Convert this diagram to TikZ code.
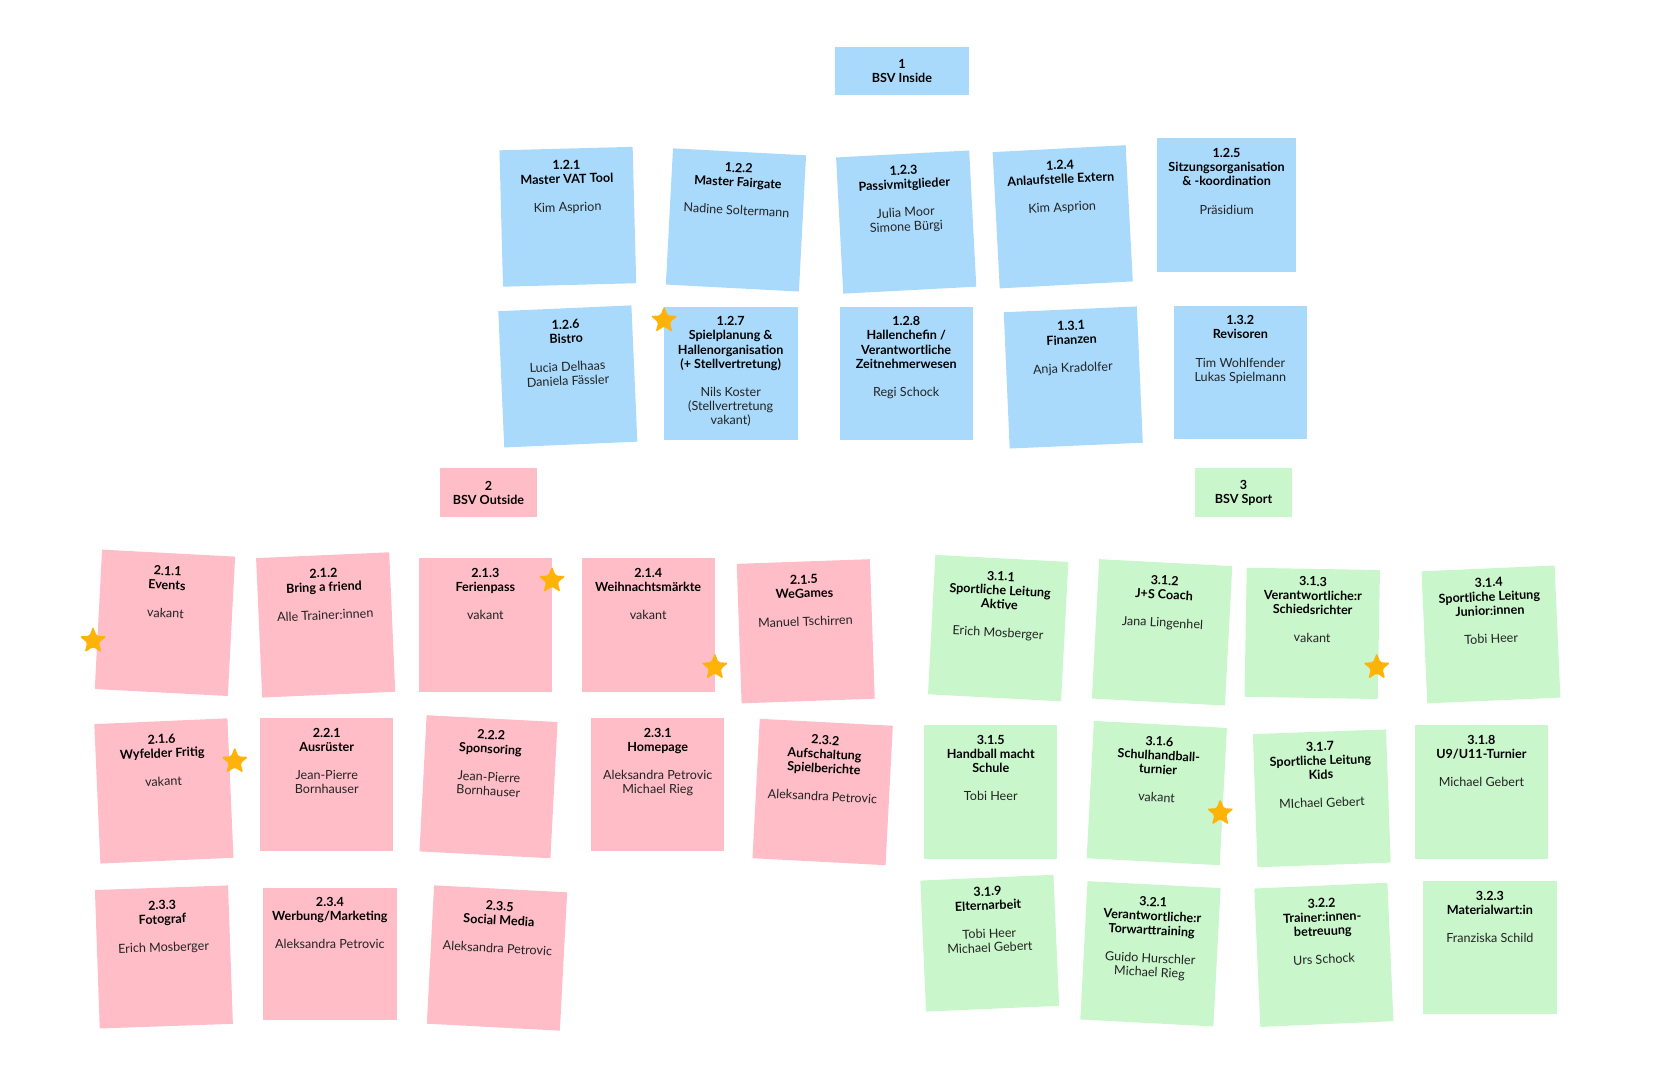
\documentclass[tikz,border=0pt]{standalone}
\usepackage{fontspec}
\setmainfont{Lato}
\usepackage{tikz}
\usetikzlibrary{shapes.geometric, positioning}
\definecolor{noteblue}{RGB}{169,218,252}
\definecolor{notepink}{RGB}{255,189,199}
\definecolor{notegreen}{RGB}{201,246,203}
\definecolor{stargold}{RGB}{255,178,8}
\definecolor{inkgray}{RGB}{35,35,35}
\newcommand{\cardtext}[3]{\parbox[c][118pt][t]{124pt}{\centering\vspace*{5.5pt}%
  {\bfseries #1\\#2\par}\vspace{13.3pt}{\color{inkgray}#3\par}}}

\begin{document}
\begin{tikzpicture}[x=1pt, y=-1pt,
    every node/.style={font=\fontsize{11.9}{13.3}\selectfont, text=black},
    card/.style={minimum width=126pt, minimum height=129pt, inner sep=0pt},
    bluecard/.style={card, fill=noteblue},
    pinkcard/.style={card, fill=notepink},
    greencard/.style={card, fill=notegreen},
    head/.style={minimum height=46pt, inner sep=0pt, align=center, font=\fontsize{11.9}{13.3}\selectfont\bfseries},
    goldstar/.style={star, star points=5, star point ratio=2.3, fill=stargold, minimum size=27pt, inner sep=0pt, rounded corners=1.5pt}]
		\useasboundingbox (0,0) rectangle (1568,1019);
		% headers
		\node [head, fill=noteblue, minimum width=126pt] (bsv1) at (853,67) {1\\BSV Inside};
		\node [head, fill=notepink, minimum width=91pt] (bsv2) at (462,466) {2\\BSV Outside};
		\node [head, fill=notegreen, minimum width=91pt] (bsv3) at (1176,466) {3\\BSV Sport};
		
		% BSV Inside
		\node [bluecard, rotate=1.5] (n121) at (537,205) {\cardtext{1.2.1}{Master VAT Tool}{Kim Asprion}};
		\node [bluecard, rotate=-3] (n122) at (696,208) {\cardtext{1.2.2}{Master Fairgate}{Nadine Soltermann}};
		\node [bluecard, rotate=3] (n123) at (857,210) {\cardtext{1.2.3}{Passivmitglieder}{Julia Moor\\Simone Bürgi}};
		\node [bluecard, rotate=3] (n124) at (1005,205) {\cardtext{1.2.4}{Anlaufstelle Extern}{Kim Asprion}};
		\node [bluecard, minimum width=131pt, minimum height=127pt] (n125) at (1160,194) {\cardtext{1.2.5}{Sitzungsorganisation\\\& -koordination}{Präsidium}};
		\node [bluecard, rotate=2.5] (n126) at (537,356) {\cardtext{1.2.6}{Bistro}{Lucia Delhaas\\Daniela Fässler}};
		\node [bluecard, minimum width=127pt, minimum height=126pt] (n127) at (691,353) {\cardtext{1.2.7}{Spielplanung \&\\Hallenorganisation\\(+ Stellvertretung)}{Nils Koster\\(Stellvertretung\\vakant)}};
		\node [bluecard, minimum height=126pt] (n128) at (857,353) {\cardtext{1.2.8}{Hallenchefin /\\Verantwortliche\\Zeitnehmerwesen}{Regi Schock}};
		\node [bluecard, rotate=2.5] (n131) at (1015,357) {\cardtext{1.3.1}{Finanzen}{Anja Kradolfer}};
		\node [bluecard, minimum height=126pt] (n132) at (1173,352) {\cardtext{1.3.2}{Revisoren}{Tim Wohlfender\\Lukas Spielmann}};
		
		% BSV Outside
		\node [pinkcard, rotate=-3, minimum height=132pt] (n211) at (156,589) {\cardtext{2.1.1}{Events}{vakant}};
		\node [pinkcard, rotate=2.5, minimum height=132pt] (n212) at (308,591) {\cardtext{2.1.2}{Bring a friend}{Alle Trainer:innen}};
		\node [pinkcard, minimum height=127pt] (n213) at (459,591) {\cardtext{2.1.3}{Ferienpass}{vakant}};
		\node [pinkcard, minimum height=127pt] (n214) at (613,591) {\cardtext{2.1.4}{Weihnachtsmärkte}{vakant}};
		\node [pinkcard, rotate=2, minimum height=132pt] (n215) at (762,597) {\cardtext{2.1.5}{WeGames}{Manuel Tschirren}};
		\node [pinkcard, rotate=2.5, minimum height=132pt] (n216) at (155,748) {\cardtext{2.1.6}{Wyfelder Fritig}{vakant}};
		\node [pinkcard, minimum height=126pt] (n221) at (309,742) {\cardtext{2.2.1}{Ausrüster}{Jean-Pierre\\Bornhauser}};
		\node [pinkcard, rotate=-3, minimum width=123pt] (n222) at (462,744) {\cardtext{2.2.2}{Sponsoring}{Jean-Pierre\\Bornhauser}};
		\node [pinkcard, minimum height=126pt] (n231) at (622,742) {\cardtext{2.3.1}{Homepage}{Aleksandra Petrovic\\Michael Rieg}};
		\node [pinkcard, rotate=-3, minimum height=132pt] (n232) at (778,749) {\cardtext{2.3.2}{Aufschaltung\\Spielberichte}{Aleksandra Petrovic}};
		\node [pinkcard, rotate=2, minimum height=131pt] (n233) at (155,905) {\cardtext{2.3.3}{Fotograf}{Erich Mosberger}};
		\node [pinkcard, minimum height=125pt] (n234) at (312,902) {\cardtext{2.3.4}{Werbung/Marketing}{Aleksandra Petrovic}};
		\node [pinkcard, rotate=-3, minimum height=131pt] (n235) at (470,906) {\cardtext{2.3.5}{Social Media}{Aleksandra Petrovic}};
		
		% BSV Sport
		\node [greencard, rotate=-3, minimum height=132pt] (n311) at (944,594) {\cardtext{3.1.1}{Sportliche Leitung\\Aktive}{Erich Mosberger}};
		\node [greencard, rotate=-3, minimum height=132pt] (n312) at (1099,598) {\cardtext{3.1.2}{J+S Coach}{Jana Lingenhel}};
		\node [greencard, rotate=-1, minimum height=122pt] (n313) at (1241,599) {\cardtext{3.1.3}{Verantwortliche:r\\Schiedsrichter}{vakant}};
		\node [greencard, rotate=2.5, minimum height=125pt] (n314) at (1410,600) {\cardtext{3.1.4}{Sportliche Leitung\\Junior:innen}{Tobi Heer}};
		\node [greencard, minimum height=126pt] (n315) at (937,749) {\cardtext{3.1.5}{Handball macht\\Schule}{Tobi Heer}};
		\node [greencard, rotate=-3, minimum height=130pt] (n316) at (1094,750) {\cardtext{3.1.6}{Schulhandball-\\turnier}{vakant}};
		\node [greencard, rotate=2, minimum height=126pt] (n317) at (1250,755) {\cardtext{3.1.7}{Sportliche Leitung\\Kids}{MIchael Gebert}};
		\node [greencard, minimum height=126pt] (n318) at (1401,749) {\cardtext{3.1.8}{U9/U11-Turnier}{Michael Gebert}};
		\node [greencard, rotate=2.5, minimum height=124pt] (n319) at (936,892) {\cardtext{3.1.9}{Elternarbeit}{Tobi Heer\\Michael Gebert}};
		\node [greencard, rotate=-3, minimum height=131pt] (n321) at (1088,902) {\cardtext{3.2.1}{Verantwortliche:r\\Torwarttraining}{Guido Hurschler\\Michael Rieg}};
		\node [greencard, rotate=2.5, minimum height=131pt] (n322) at (1252,903) {\cardtext{3.2.2}{Trainer:innen-\\betreuung}{Urs Schock}};
		\node [greencard, minimum height=126pt] (n323) at (1409,896) {\cardtext{3.2.3}{Materialwart:in}{Franziska Schild}};
		
		% stars
		\foreach \sx/\sy [count=\k] in {628/303, 88/606, 522/549, 676/631, 222/720, 1302/631, 1154/769}{
			\node [goldstar] (star\k) at (\sx,\sy) {};
		}
	\end{tikzpicture}
\end{document}
